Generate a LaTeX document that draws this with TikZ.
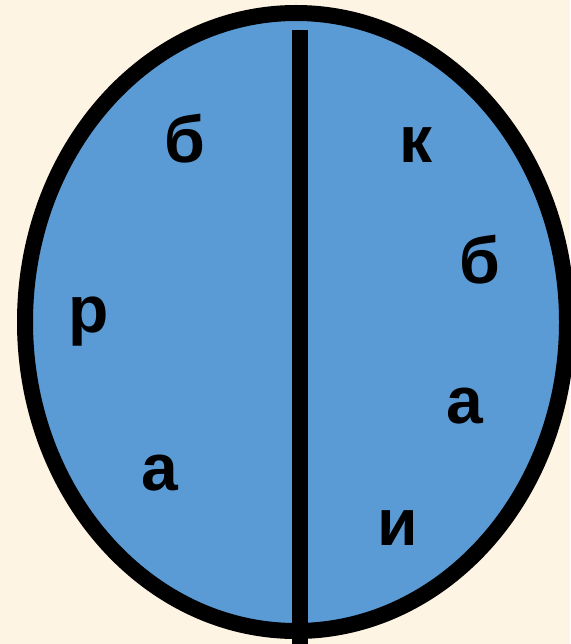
\documentclass[tikz,border=0pt]{standalone}
\usepackage{fontspec}
\setmainfont{Liberation Sans}
\definecolor{bgcream}{HTML}{FDF4E4}
\definecolor{discblue}{HTML}{5B9BD5}
\begin{document}
\begin{tikzpicture}[x=1pt,y=-1pt,
  letter/.style={anchor=base,inner sep=0pt,font=\fontsize{66}{66}\selectfont\bfseries}]
\fill[bgcream] (0,0) rectangle (570,644);
\useasboundingbox (0,0) rectangle (570,644);
\draw[line width=16pt,fill=discblue] (296,322) ellipse [x radius=271, y radius=309];
\coordinate (ltop) at (300,30);
\coordinate (lbot) at (300,644);
\draw[line width=16pt] (ltop) -- (lbot);
\node[letter] (b1) at (185,163) {б};
\node[letter] (r1) at (89,332) {р};
\node[letter] (a1) at (160,490) {а};
\node[letter] (k2) at (416,163) {к};
\node[letter] (b2) at (480,283) {б};
\node[letter] (a2) at (465,423) {а};
\node[letter] (i2) at (398,545) {и};
\end{tikzpicture}
\end{document}
